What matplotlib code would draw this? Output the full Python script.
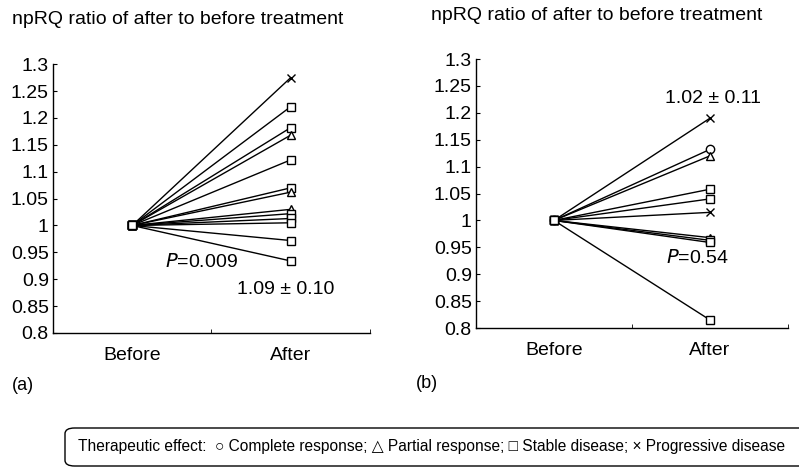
import matplotlib.pyplot as plt
from matplotlib.patches import FancyBboxPatch

# After-treatment npRQ ratios (Before is always 1.0)
left_after = [1.275, 1.221, 1.182, 1.168, 1.122, 1.070, 1.062, 1.030, 1.022, 1.013, 1.005, 0.972, 0.934]
left_effect = ['PD', 'SD', 'SD', 'PR', 'SD', 'SD', 'PR', 'PR', 'SD', 'SD', 'SD', 'SD', 'SD']

right_after = [1.190, 1.132, 1.120, 1.058, 1.040, 1.015, 0.968, 0.963, 0.959, 0.815]
right_effect = ['PD', 'CR', 'PR', 'SD', 'SD', 'PD', 'PR', 'SD', 'SD', 'SD']

groups = ['Before', 'After']
yticks = [0.8, 0.85, 0.9, 0.95, 1.0, 1.05, 1.1, 1.15, 1.2, 1.25, 1.3]
ytick_labels = ['0.8', '0.85', '0.9', '0.95', '1', '1.05', '1.1', '1.15', '1.2', '1.25', '1.3']

markers = {'CR': 'o', 'PR': '^', 'SD': 's', 'PD': 'x'}

plt.rcParams['font.family'] = ['Liberation Sans', 'DejaVu Sans']

fig = plt.figure(figsize=(7.99, 4.72), dpi=100)
ax_a = fig.add_axes([0.0663, 0.2945, 0.3967, 0.5695])
ax_b = fig.add_axes([0.5957, 0.305, 0.3905, 0.570])


def draw_panel(ax, after, effect):
    for val, eff in zip(after, effect):
        ax.plot([1, 2], [1.0, val], color='black', lw=1.0,
                marker=markers[eff], markersize=6, markerfacecolor='white',
                markeredgecolor='black', markeredgewidth=1.0)
    ax.set_xlim(0.5, 2.5)
    ax.set_ylim(0.8, 1.3)
    ax.set_yticks(yticks)
    ax.set_yticklabels(ytick_labels, fontsize=14)
    ax.set_xticks([1, 2])
    ax.set_xticklabels(groups, fontsize=14)
    ax.set_xticks([0.5, 1.5, 2.5], minor=True)
    ax.tick_params(axis='x', which='major', length=0, pad=10)
    ax.tick_params(axis='x', which='minor', direction='in', length=3)
    ax.tick_params(axis='y', direction='in', length=3, pad=3)
    ax.spines['top'].set_visible(False)
    ax.spines['right'].set_visible(False)
    for s in ['left', 'bottom']:
        ax.spines[s].set_linewidth(1.0)


draw_panel(ax_a, left_after, left_effect)
draw_panel(ax_b, right_after, right_effect)

# Annotations
ax_a.text(1.21, 0.932, r'$\it{P}$=0.009', fontsize=14, va='center', ha='left')
ax_a.text(1.66, 0.88, '1.09 ± 0.10', fontsize=14, va='center', ha='left')
ax_b.text(1.71, 1.2275, '1.02 ± 0.11', fontsize=14, va='center', ha='left')
ax_b.text(1.715, 0.93, r'$\it{P}$=0.54', fontsize=14, va='center', ha='left')

# Titles and panel labels
fig.text(0.015, 0.958, 'npRQ ratio of after to before treatment', fontsize=14, va='center')
fig.text(0.54, 0.968, 'npRQ ratio of after to before treatment', fontsize=14, va='center')
fig.text(0.015, 0.183, '(a)', fontsize=13, va='center')
fig.text(0.52, 0.188, '(b)', fontsize=13, va='center')

# Legend box
box = FancyBboxPatch((65 / 799, 1 - 466 / 472), 745 / 799, 38 / 472,
                     boxstyle='round,pad=0,rounding_size=0.012',
                     transform=fig.transFigure, facecolor='white',
                     edgecolor='black', lw=1.0, clip_on=False)
fig.patches.append(box)
fig.text(78 / 799, 1 - 447 / 472,
         'Therapeutic effect:  \u25cb Complete response; \u25b3 Partial response; '
         '\u25a1 Stable disease; \u00d7 Progressive disease',
         fontsize=11.2, va='center', ha='left',
         family=['Liberation Sans Narrow', 'Liberation Sans', 'DejaVu Sans'])

fig.savefig('out.png', dpi=100)
